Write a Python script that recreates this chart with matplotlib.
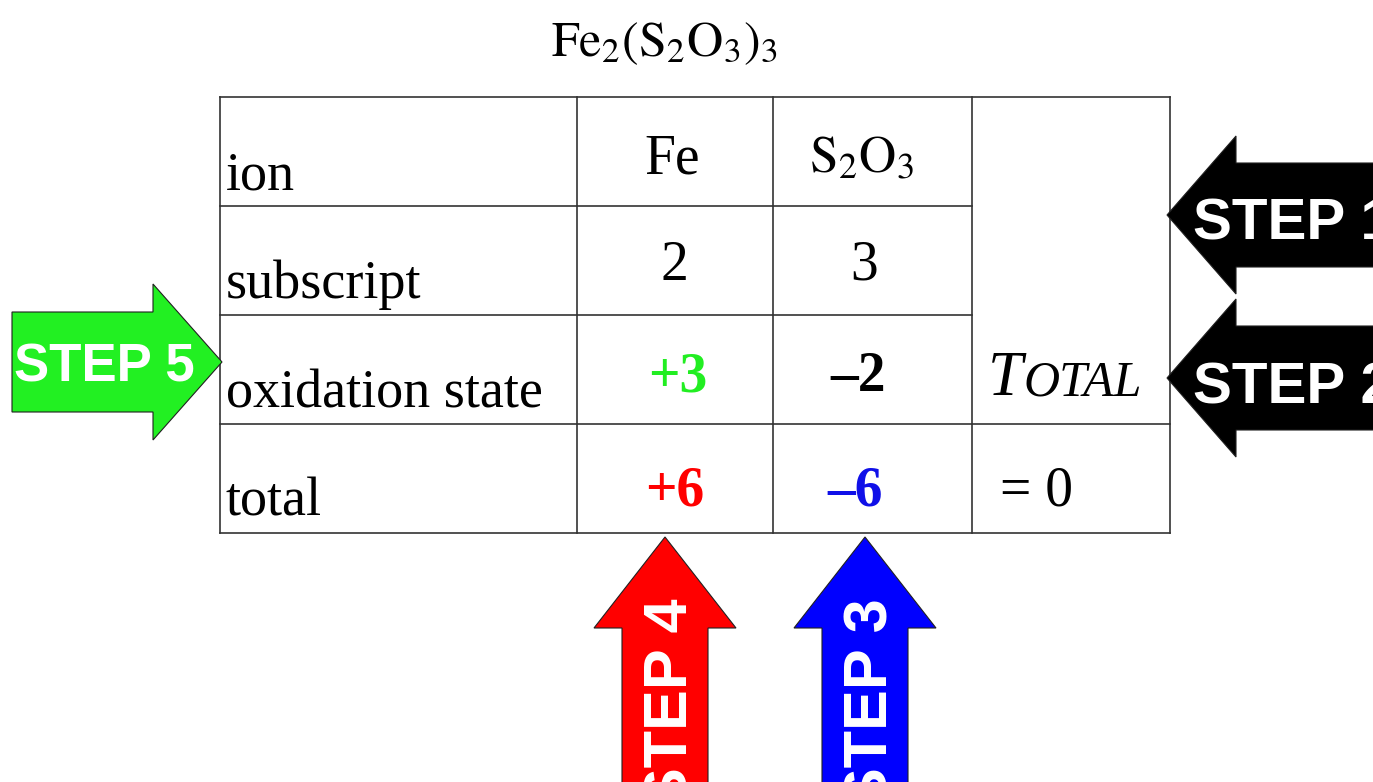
import matplotlib.pyplot as plt
from matplotlib.patches import Polygon

plt.rcParams['mathtext.fontset'] = 'stix'

# table content
title = r'$\mathrm{Fe_2(S_2O_3)_3}$'
row_labels = ['ion', 'subscript', 'oxidation state', 'total']
ions = ['Fe', r'$\mathrm{S_2O_3}$']
subscripts = ['2', '3']
ox_states = ['+3', '\u20132']
ox_colors = ['#22ee22', 'black']
totals = ['+6', '\u20136']
total_colors = ['#ff0000', '#1010e8']
total_sum = '= 0'

# arrow labels and colours
steps = ['STEP 1', 'STEP 2', 'STEP 3', 'STEP 4', 'STEP 5']
step_colors = ['black', 'black', '#0000ff', '#ff0000', '#22f022']

# layout
col_x = [220, 577, 773, 972, 1170]
row_y = [97, 206, 315, 424, 533]
serif = 'Liberation Serif'
sans = 'Liberation Sans'

fig = plt.figure(figsize=(13.73, 7.82), dpi=100)
ax = fig.add_axes([0, 0, 1, 1])
ax.set_xlim(0, 1373)
ax.set_ylim(782, 0)
ax.axis('off')

lc = '#333333'
lw = 1.2
# outer box and vertical lines
for x in col_x:
    ax.plot([x, x], [row_y[0], row_y[-1]], color=lc, lw=lw)
for y in (row_y[0], row_y[3], row_y[4]):
    ax.plot([col_x[0], col_x[-1]], [y, y], color=lc, lw=lw)
# inner rows stop before the TOTAL column
for y in row_y[1:3]:
    ax.plot([col_x[0], col_x[3]], [y, y], color=lc, lw=lw)

ax.text(664, 56, title, fontsize=36, ha='center', va='baseline')

fs = 39
for i, lab in enumerate(row_labels):
    ax.text(col_x[0] + 6, row_y[i + 1] - 17, lab, family=serif, fontsize=fs,
            ha='left', va='baseline')

cx = [672, 862]
for j in range(2):
    ax.text(cx[j], row_y[1] - 33, ions[j], family=serif,
            fontsize=fs + 1 - 3 * j, ha='center', va='baseline')
    ax.text(cx[j] + 2, row_y[2] - 35, subscripts[j], family=serif,
            fontsize=fs + 1, ha='center', va='baseline')
    ax.text(cx[j] + 6 - j * 10, row_y[3] - 33, ox_states[j], family=serif,
            fontsize=fs + 1, weight='bold', color=ox_colors[j],
            ha='center', va='baseline')
    ax.text(cx[j] + 3 - j * 10, row_y[4] - 28, totals[j], family=serif,
            fontsize=fs + 1, weight='bold', color=total_colors[j],
            ha='center', va='baseline')

# TOTAL in small caps
ax.text(988, 395, 'T', family=serif, style='italic', fontsize=45,
        ha='left', va='baseline')
ax.text(1023, 395, 'OTAL', family=serif, style='italic', fontsize=36,
        ha='left', va='baseline')
ax.text(1000, 505, total_sum, family=serif, fontsize=fs + 1,
        ha='left', va='baseline')


def arrow(tip, d, length, shaft, head, head_len, color):
    tx, ty = tip
    if d == 'left':
        pts = [(tx, ty), (tx + head_len, ty - head), (tx + head_len, ty - shaft),
               (tx + length, ty - shaft), (tx + length, ty + shaft),
               (tx + head_len, ty + shaft), (tx + head_len, ty + head)]
    elif d == 'right':
        pts = [(tx, ty), (tx - head_len, ty - head), (tx - head_len, ty - shaft),
               (tx - length, ty - shaft), (tx - length, ty + shaft),
               (tx - head_len, ty + shaft), (tx - head_len, ty + head)]
    else:  # up
        pts = [(tx, ty), (tx - head, ty + head_len), (tx - shaft, ty + head_len),
               (tx - shaft, ty + length), (tx + shaft, ty + length),
               (tx + shaft, ty + head_len), (tx + head, ty + head_len)]
    ax.add_patch(Polygon(pts, closed=True, facecolor=color,
                         edgecolor='#202020', lw=0.8, zorder=3))


arrow((1167, 215), 'left', 230, 52, 79, 69, step_colors[0])
arrow((1167, 378), 'left', 230, 52, 79, 69, step_colors[1])
arrow((865, 537), 'up', 260, 43, 71, 91, step_colors[2])
arrow((665, 537), 'up', 260, 43, 71, 91, step_colors[3])
arrow((222, 362), 'right', 210, 50, 78, 69, step_colors[4])

tk = dict(family=sans, weight='bold', color='white', zorder=4)
ax.text(1193, 240, steps[0], fontsize=42, ha='left', va='baseline', **tk)
ax.text(1193, 403, steps[1], fontsize=42, ha='left', va='baseline', **tk)
ax.text(887, 598, steps[2], fontsize=44, rotation=90, rotation_mode='anchor',
        ha='right', va='baseline', **tk)
ax.text(687, 598, steps[3], fontsize=44, rotation=90, rotation_mode='anchor',
        ha='right', va='baseline', **tk)
ax.text(14, 381, steps[4], fontsize=38, ha='left', va='baseline', **tk)

fig.savefig('out.png', dpi=100)
